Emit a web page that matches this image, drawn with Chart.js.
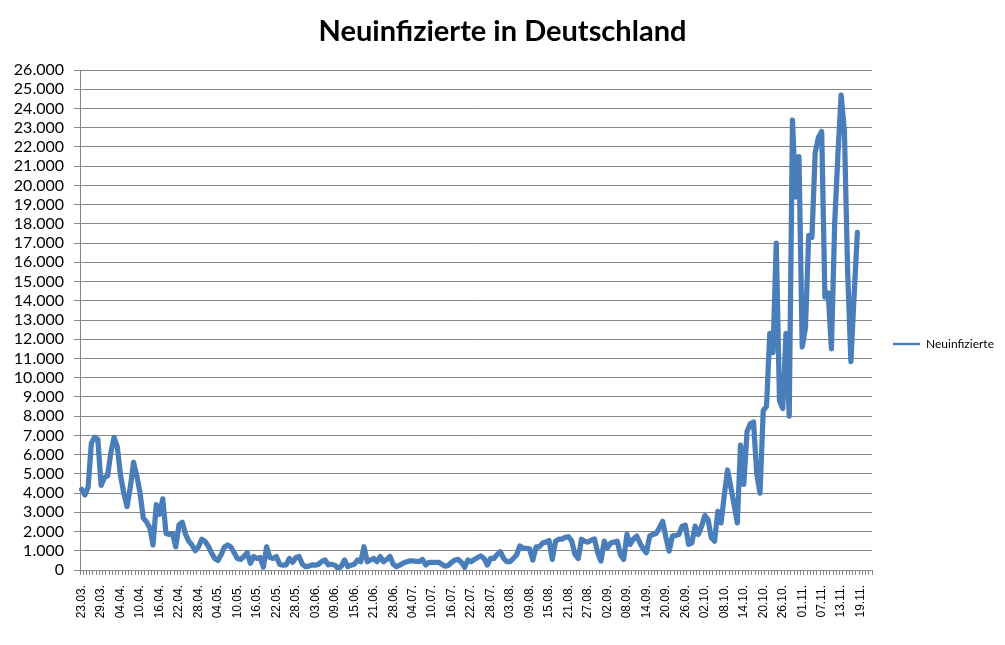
<!DOCTYPE html>
<html lang="de">
<head>
<meta charset="utf-8">
<title>Neuinfizierte in Deutschland</title>
<script src="https://cdn.jsdelivr.net/npm/chart.js@4.4.1/dist/chart.umd.min.js"></script>
<style>
  html, body { margin: 0; padding: 0; background: #fff; }
  #wrap { width: 1005px; height: 645px; }
</style>
</head>
<body>
<div id="wrap"><canvas id="chart" width="1005" height="645"></canvas></div>
<script>
// Tageswerte ab 23.03.
const neuinfizierte = [
  4200, 3900, 4300, 6600, 6900, 6800, 4400, 4800, 4900, 6100,
  6900, 6400, 4900, 4000, 3300, 4300, 5600, 4900, 4000, 2700,
  2500, 2200, 1300, 3400, 2900, 3700, 1900, 1850, 1900, 1200,
  2350, 2480, 1870, 1500, 1300, 1000, 1200, 1600, 1500, 1250,
  900, 600, 500, 800, 1200, 1300, 1200, 900, 600, 550,
  700, 900, 350, 700, 600, 650, 150, 1200, 650, 600,
  700, 300, 250, 270, 600, 400, 650, 700, 300, 170,
  200, 270, 250, 300, 450, 520, 270, 300, 250, 80,
  200, 520, 170, 250, 300, 520, 430, 1210, 430, 520,
  600, 430, 700, 430, 550, 700, 300, 170, 250, 350,
  420, 470, 470, 450, 430, 550, 260, 400, 400, 400,
  400, 300, 200, 250, 400, 520, 550, 400, 140, 520,
  430, 550, 650, 730, 600, 260, 600, 600, 800, 950,
  600, 430, 430, 600, 780, 1250, 1150, 1120, 1100, 520,
  1200, 1200, 1400, 1450, 1530, 550, 1500, 1600, 1600, 1700,
  1730, 1500, 800, 600, 1600, 1500, 1450, 1550, 1620, 900,
  470, 1500, 1150, 1400, 1450, 1500, 800, 550, 1850, 1330,
  1600, 1760, 1410, 1100, 900, 1760, 1850, 1900, 2200, 2530,
  1700, 980, 1760, 1800, 1850, 2280, 2330, 1330, 1410, 2280,
  1850, 2280, 2830, 2620, 1670, 1500, 3050, 2450, 3900, 5200,
  4300, 3400, 2450, 6500, 4450, 7200, 7600, 7700, 5000, 4000,
  8300, 8500, 12300, 11300, 17000, 8800, 8400, 12300, 8000, 23400,
  19400, 21500, 11600, 12600, 17400, 17300, 21700, 22500, 22800, 14200,
  14400, 11500, 18000, 21600, 24700, 22800, 15500, 10830, 14300, 17560
];

// Beschriftung jeder 6. Kategorie
const tickLabels = [
  '23.03.', '29.03.', '04.04.', '10.04.', '16.04.', '22.04.', '28.04.',
  '04.05.', '10.05.', '16.05.', '22.05.', '28.05.', '03.06.', '09.06.',
  '15.06.', '21.06.', '28.06.', '04.07.', '10.07.', '16.07.', '22.07.',
  '28.07.', '03.08.', '09.08.', '15.08.', '21.08.', '27.08.', '02.09.',
  '08.09.', '14.09.', '20.09.', '26.09.', '02.10.', '08.10.', '14.10.',
  '20.10.', '26.10.', '01.11.', '07.11.', '13.11.', '19.11.'
];
const categoryCount = 244; // Tabelle hat am Ende noch leere Zeilen
const labelStep = 6;
const categories = Array.from({ length: categoryCount },
  (_, i) => (i % labelStep === 0 && tickLabels[i / labelStep]) || '');

const yMax = 26000;
const yStep = 1000;

const titleText = 'Neuinfizierte in Deutschland';
const seriesName = 'Neuinfizierte';
const lineColor = '#4a7ebb';
const gridColor = '#868686';

const fmt = v => String(v).replace(/\B(?=(\d{3})+(?!\d))/g, '.');

// Titel über die ganze Breite zentriert und Legende rechts, wie in Excel
const excelDeko = {
  id: 'excelDeko',
  afterDraw(chart) {
    const { ctx, chartArea, width } = chart;
    ctx.save();
    ctx.fillStyle = '#000';
    ctx.font = 'bold 29px Lato';
    ctx.textAlign = 'center';
    ctx.textBaseline = 'middle';
    ctx.fillText(titleText, width / 2, 32);

    const x = chartArea.right + 21;
    const y = 344;
    ctx.strokeStyle = lineColor;
    ctx.lineWidth = 2.5;
    ctx.beginPath();
    ctx.moveTo(x, y);
    ctx.lineTo(x + 27, y);
    ctx.stroke();
    ctx.font = '12px Lato';
    ctx.textAlign = 'left';
    ctx.fillText(seriesName, x + 33, y);
    ctx.restore();
  }
};

const ctx = document.getElementById('chart').getContext('2d');
new Chart(ctx, {
  type: 'line',
  data: {
    labels: categories,
    datasets: [{
      label: seriesName,
      data: neuinfizierte,
      borderColor: lineColor,
      backgroundColor: lineColor,
      borderWidth: 5.25,
      pointRadius: 0,
      tension: 0,
      borderJoinStyle: 'round',
      borderCapStyle: 'round',
      fill: false
    }]
  },
  options: {
    responsive: false,
    animation: false,
    devicePixelRatio: 1,
    layout: { padding: { left: 0, right: 133, top: 70, bottom: 0 } },
    plugins: {
      legend: { display: false },
      tooltip: { enabled: false },
      title: { display: false }
    },
    scales: {
      x: {
        type: 'category',
        offset: true,
        grid: { display: true, offset: true, drawOnChartArea: false, tickLength: 5, color: gridColor },
        border: { color: gridColor, width: 1 },
        ticks: {
          autoSkip: false, maxRotation: 90, minRotation: 90, padding: 10,
          color: '#000', font: { family: 'Liberation Sans', size: 12 }
        },
        afterFit: s => { s.height = 75; }
      },
      y: {
        min: 0,
        max: yMax,
        ticks: {
          stepSize: yStep, autoSkip: false, padding: 10, color: '#000',
          font: { family: 'Lato', size: 16 },
          callback: v => fmt(v)
        },
        grid: { color: gridColor, tickLength: 6 },
        border: { color: gridColor },
        afterFit: s => { s.width = 80; }
      }
    }
  },
  plugins: [excelDeko]
});
</script>
</body>
</html>
